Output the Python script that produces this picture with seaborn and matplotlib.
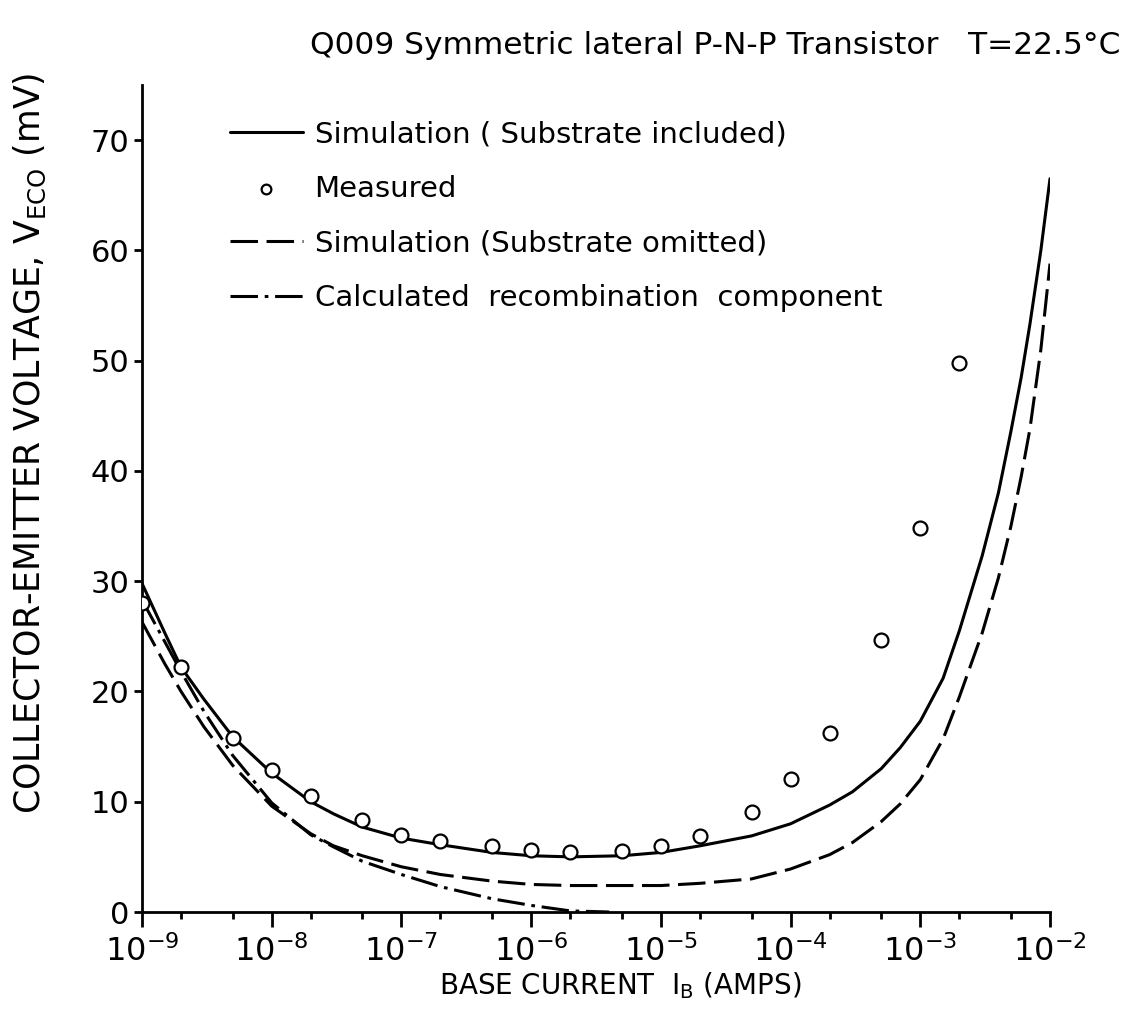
import numpy as np
import pandas as pd
import matplotlib
matplotlib.use("Agg")
import matplotlib.pyplot as plt
import seaborn as sns
from matplotlib.ticker import FixedLocator, FuncFormatter, NullFormatter

# ---------------- data ----------------
meas_ib = [1e-9, 2e-9, 5e-9, 1e-8, 2e-8, 5e-8, 1e-7, 2e-7, 5e-7, 1e-6,
           2e-6, 5e-6, 1e-5, 2e-5, 5e-5, 1e-4, 2e-4, 5e-4, 1e-3, 2e-3]
meas_v = [28.0, 22.2, 15.8, 12.9, 10.5, 8.3, 7.0, 6.4, 6.0, 5.6,
          5.4, 5.5, 6.0, 6.9, 9.1, 12.1, 16.2, 24.7, 34.8, 49.8]

sim_inc_ib = [1e-9, 1.5e-9, 2e-9, 3e-9, 5e-9, 1e-8, 2e-8, 3e-8, 5e-8, 1e-7,
              2e-7, 5e-7, 1e-6, 2e-6, 5e-6, 1e-5, 2e-5, 5e-5, 1e-4, 2e-4,
              3e-4, 5e-4, 7e-4, 1e-3, 1.5e-3, 2e-3, 3e-3, 4e-3, 5e-3, 6e-3,
              7e-3, 8.5e-3, 1e-2]
sim_inc_v = [29.8, 25.3, 22.2, 19.3, 15.9, 12.6, 10.0, 8.9, 7.7, 6.7,
             6.1, 5.4, 5.1, 5.0, 5.1, 5.4, 6.0, 6.9, 8.0, 9.7,
             10.9, 13.0, 14.9, 17.3, 21.2, 25.5, 32.3, 38.0, 43.6, 48.5,
             53.3, 60.0, 66.5]

sim_omit_ib = [1e-9, 1.5e-9, 2e-9, 3e-9, 5e-9, 1e-8, 2e-8, 3e-8, 5e-8, 1e-7,
               2e-7, 5e-7, 1e-6, 2e-6, 5e-6, 1e-5, 2e-5, 5e-5, 1e-4, 2e-4,
               3e-4, 5e-4, 7e-4, 1e-3, 1.5e-3, 2e-3, 3e-3, 4e-3, 5e-3, 6e-3,
               7e-3, 8.5e-3, 1e-2]
sim_omit_v = [26.3, 22.5, 20.0, 16.8, 13.3, 9.6, 7.1, 6.0, 5.1, 4.1,
              3.4, 2.8, 2.5, 2.4, 2.4, 2.4, 2.6, 3.0, 3.9, 5.2,
              6.3, 8.2, 9.8, 12.0, 15.7, 19.5, 25.3, 30.3, 35.0, 39.5,
              43.8, 51.0, 58.8]

recomb_ib = [1e-9, 1.5e-9, 2e-9, 3e-9, 5e-9, 1e-8, 2e-8, 3e-8, 5e-8, 1e-7,
             2e-7, 5e-7, 1e-6, 2e-6, 4e-6]
recomb_v = [28.3, 24.5, 21.8, 18.2, 14.2, 9.9, 7.0, 5.9, 4.6, 3.4,
            2.3, 1.2, 0.6, 0.1, 0.0]

x_ticks = [1e-9, 1e-8, 1e-7, 1e-6, 1e-5, 1e-4, 1e-3, 1e-2]
y_ticks = [0, 10, 20, 30, 40, 50, 60, 70]

title_text = "Q009 Symmetric lateral P-N-P Transistor   T=22.5°C"
xlabel_text = r"BASE CURRENT  I$_\mathregular{B}$ (AMPS)"
ylabel_text = r"COLLECTOR-EMITTER VOLTAGE, V$_\mathregular{ECO}$ (mV)"
labels = ["Simulation ( Substrate included)", "Measured",
          "Simulation (Substrate omitted)", "Calculated  recombination  component"]

# ---------------- styling ----------------
sns.set_theme(style="white")
plt.rcParams["font.family"] = ["DejaVu Sans"]
plt.rcParams["mathtext.default"] = "regular"
for k in ["text.color", "axes.labelcolor", "xtick.color", "ytick.color", "axes.edgecolor"]:
    plt.rcParams[k] = "black"

W, H = 1125, 1034
fig = plt.figure(figsize=(W / 100, H / 100), dpi=100)
ax = fig.add_axes([142 / W, 1 - 912 / H, (1050 - 142) / W, (912 - 85) / H])
ax.set_xscale("log")

lw = 2.2
df_inc = pd.DataFrame({"ib": sim_inc_ib, "v": sim_inc_v})
df_omit = pd.DataFrame({"ib": sim_omit_ib, "v": sim_omit_v})
df_rec = pd.DataFrame({"ib": recomb_ib, "v": recomb_v})
df_meas = pd.DataFrame({"ib": meas_ib, "v": meas_v})

sns.lineplot(data=df_inc, x="ib", y="v", ax=ax, color="black", lw=lw,
             label=labels[0], sort=True)
sns.scatterplot(data=df_meas, x="ib", y="v", ax=ax, marker="o", s=100,
                facecolor="white", edgecolor="black", linewidth=1.6,
                label=labels[1], zorder=5)
sns.lineplot(data=df_omit, x="ib", y="v", ax=ax, color="black", lw=lw,
             linestyle=(0, (9, 2.8)), label=labels[2], sort=True)
sns.lineplot(data=df_rec, x="ib", y="v", ax=ax, color="black", lw=lw,
             linestyle=(0, (9, 2.2, 1.2, 2.2)), label=labels[3], sort=True)

ax.set_xlim(1e-9, 1e-2)
ax.set_ylim(0, 75)

# spines
for s in ["top", "right"]:
    ax.spines[s].set_visible(False)
for s in ["left", "bottom"]:
    ax.spines[s].set_linewidth(2.0)
    ax.spines[s].set_color("black")

# ticks
ax.xaxis.set_major_locator(FixedLocator(x_ticks))
minor = [m * 10.0 ** e for e in range(-9, -2) for m in (2, 5)]
ax.xaxis.set_minor_locator(FixedLocator(minor))
ax.xaxis.set_minor_formatter(NullFormatter())
ax.xaxis.set_major_formatter(FuncFormatter(
    lambda v, p: r"$\mathregular{10^{%d}}$" % int(round(np.log10(v)))))
ax.yaxis.set_major_locator(FixedLocator(y_ticks))
ax.tick_params(axis="x", which="major", direction="out", length=11, width=2,
               labelsize=23, pad=6, color="black", bottom=True)
ax.tick_params(axis="x", which="minor", direction="out", length=5, width=2,
               color="black", bottom=True)
ax.tick_params(axis="y", which="major", direction="out", length=6, width=2,
               labelsize=22, pad=3, color="black", left=True)

ax.set_xlabel(xlabel_text, fontsize=20)
ax.set_ylabel(ylabel_text, fontsize=25)
ax.xaxis.set_label_coords((620 - 142) / 908, (912 - 970) / 827)
ax.yaxis.set_label_coords((48 - 142) / 908, (912 - 443) / 827)

fig.text(1120 / W, 1 - 45 / H, title_text, ha="right", va="center", fontsize=22.5)

handles, labs = ax.get_legend_handles_labels()
order = [labs.index(l) for l in labels]
leg = ax.legend([handles[i] for i in order], [labs[i] for i in order],
                loc="upper left", bbox_to_anchor=((230 - 142) / 908, (912 - 120) / 827),
                frameon=False, fontsize=21, handlelength=2.5, handletextpad=0.4,
                labelspacing=0.92, borderaxespad=0, borderpad=0, markerscale=0.7)

fig.savefig("out.png", dpi=100, facecolor="white")
